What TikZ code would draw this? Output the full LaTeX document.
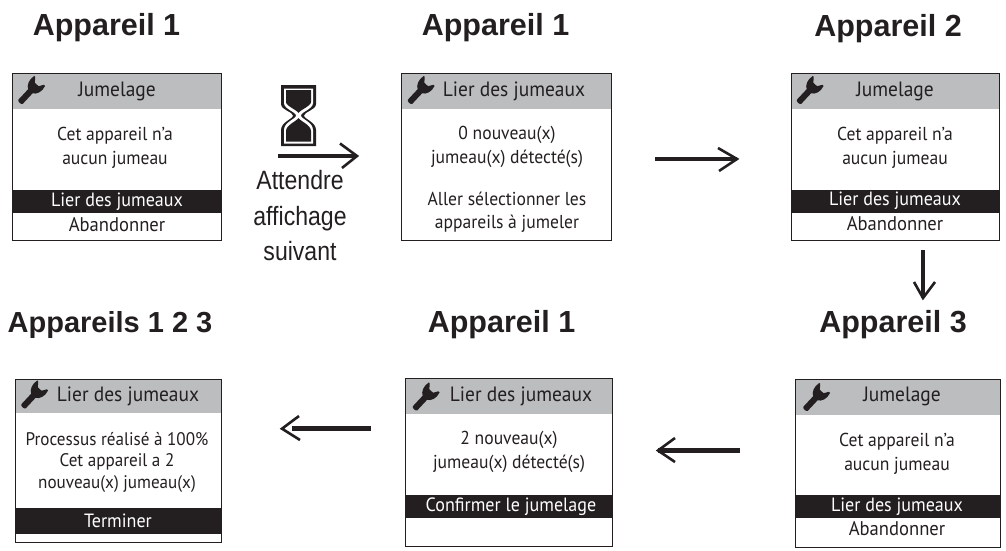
\documentclass[tikz,border=0pt]{standalone}
\usepackage{fontspec}
\setmainfont[FakeStretch=0.94]{PT Sans}
\newfontfamily\arialf{Liberation Sans}
\newfontfamily\arialn[FakeStretch=0.87]{Liberation Sans}
\definecolor{hdr}{HTML}{BBBDBF}
\definecolor{ink}{HTML}{231F20}
\tikzset{
  x=1pt,y=-1pt,
  title/.style={font=\arialf\bfseries\fontsize{30.5}{34}\selectfont,text=ink,anchor=base,inner sep=0pt},
  scr/.style={font=\fontsize{18.7}{23.5}\selectfont,text=ink,align=center,anchor=center,inner sep=0pt},
  scrh/.style={scr,font=\fontsize{20.7}{24}\selectfont},
  scrt/.style={scr,font=\fontsize{18.2}{21.5}\selectfont},
  scra/.style={scr,font=\fontsize{19.8}{24}\selectfont},
  scrw/.style={scr,font=\fontsize{19.2}{24}\selectfont,text=white},
  wait/.style={font=\arialn\fontsize{26.5}{35.5}\selectfont,text=ink,align=center,inner sep=0pt},
  flow/.style={draw=ink,line width=4.6pt},
  head/.style={draw=ink,line width=2.6pt,line join=miter},
  frame/.style={draw=ink,line width=1pt},
}
\newcommand{\wrench}[2]{%
  \fill[ink,shift={(#1+0.6,#2-2.6)},rotate=47,scale=0.84] (-20,-3.6) -- (-3,-3.6) .. controls (-1,-8) and (6,-11) .. (13.5,-9)
   -- (13.5,-7.5) -- (8,-3) -- (8,3) -- (13.5,6.5) -- (13.5,8.5) .. controls (6,11) and (-1,8) .. (-3,3.6)
   -- (-20,3.6) .. controls (-22.5,3.6) and (-22.5,-3.6) .. (-20,-3.6) -- cycle;}
\newcommand{\screen}[6]{%
  \fill[hdr] (#2,#3) rectangle (#4,#6);
  \coordinate (#1) at (#2,#3);}
\newcommand{\blackbar}[4]{\fill[ink] (#1,#3) rectangle (#2,#4);}
\begin{document}
\begin{tikzpicture}
\useasboundingbox (0,0) rectangle (1006,551);
% titles
\node[title] (t1) at (106.5,35.5) {Appareil 1};
\node[title] (t2) at (495.5,35.5) {Appareil 1};
\node[title] (t3) at (888,37) {Appareil 2};
\node[title] (t4) at (893,332.5) {Appareil 3};
\node[title] (t5) at (501.5,332.5) {Appareil 1};
\node[title,font=\arialf\bfseries\fontsize{29}{32}\selectfont] (t6) at (110,332.5) {Appareils 1 2 3};
% screen 1
\screen{s1}{12.5}{73.5}{221}{240.5}{109}
\blackbar{12.5}{221}{190}{213}
\draw[frame] (12.5,73.5) rectangle (221,240.5);
\wrench{31.5}{92}
\node[scrh] (s1h) at (117,91) {Jumelage};
\node[scr] (s1b) at (115,148) {Cet appareil n'a\\aucun jumeau};
\node[scrw] (s1c) at (117,202) {Lier des jumeaux};
\node[scra] (s1d) at (117,225) {Abandonner};
% screen 2
\screen{s2}{401.5}{73.5}{611}{240.5}{109}
\draw[frame] (401.5,73.5) rectangle (611,240.5);
\wrench{421}{92}
\node[scrh] (s2h) at (514,91) {Lier des jumeaux};
\node[scr] (s2b) at (507,147) {0 nouveau(x)\\jumeau(x) détecté(s)};
\node[scr] (s2c) at (507,212) {Aller sélectionner les\\appareils à jumeler};
% screen 3
\screen{s3}{791.5}{73.5}{999.5}{240.5}{109}
\blackbar{791.5}{999.5}{190}{213}
\draw[frame] (791.5,73.5) rectangle (999.5,240.5);
\wrench{810}{92}
\node[scrh] (s3h) at (895,91) {Jumelage};
\node[scr] (s3b) at (895,148) {Cet appareil n'a\\aucun jumeau};
\node[scrw] (s3c) at (895,201) {Lier des jumeaux};
\node[scra] (s3d) at (895,224) {Abandonner};
% screen 4
\screen{s4}{795.5}{379.5}{1000}{547}{415}
\blackbar{795.5}{1000}{495}{518}
\draw[frame] (795.5,379.5) rectangle (1000,547);
\wrench{816.5}{399}
\node[scrh] (s4h) at (902,396) {Jumelage};
\node[scr] (s4b) at (897,454) {Cet appareil n'a\\aucun jumeau};
\node[scrw] (s4c) at (897,507) {Lier des jumeaux};
\node[scra] (s4d) at (897,529) {Abandonner};
% screen 5
\screen{s5}{405.5}{378.5}{612}{546}{414}
\blackbar{405.5}{612}{495}{518}
\draw[frame] (405.5,378.5) rectangle (612,546);
\wrench{426}{398.5}
\node[scrh] (s5h) at (521,396) {Lier des jumeaux};
\node[scr] (s5b) at (509,452) {2 nouveau(x)\\jumeau(x) détecté(s)};
\node[scrw] (s5c) at (511,507) {Confirmer le jumelage};
% screen 6
\screen{s6}{15.5}{379}{221}{542}{413}
\blackbar{15.5}{221}{508}{534}
\draw[frame] (15.5,379) rectangle (221,542);
\wrench{34.5}{396.5}
\node[scrh] (s6h) at (128,396) {Lier des jumeaux};
\node[scrt] (s6b) at (117,462) {Processus réalisé à 100\%\\Cet appareil a 2\\nouveau(x) jumeau(x)};
\node[scrw] (s6c) at (118,521) {Terminer};
% hourglass
\fill[ink] (281,85) -- (316,85) -- (316,104) .. controls (316,110) and (304,112) .. (304,115.5)
  .. controls (304,119) and (316,122) .. (316,130) -- (316,146) -- (281,146) -- (281,130)
  .. controls (281,122) and (293,119) .. (293,115.5) .. controls (293,112) and (281,110) .. (281,104) -- cycle;
\fill[white] (284,88.5) -- (313,88.5) -- (313,103) .. controls (313,109) and (301,112) .. (301,115.5)
  .. controls (301,119) and (313,122) .. (313,130) -- (313,143.5) -- (284,143.5) -- (284,130)
  .. controls (284,122) and (296,119) .. (296,115.5) .. controls (296,112) and (284,109) .. (284,103) -- cycle;
\fill[ink] (286,90) -- (311,90) -- (311,102) .. controls (311,106) and (300,110) .. (298.5,113)
  .. controls (297,110) and (286,106) .. (286,102) -- cycle;
\fill[ink] (298.5,118) .. controls (300,121) and (311,125) .. (311,131) -- (311,141.5) -- (286,141.5) -- (286,131)
  .. controls (286,125) and (297,121) .. (298.5,118) -- cycle;
% wait label
\node[wait] (w) at (300,216) {Attendre\\affichage\\suivant};
% arrows
\coordinate (a1a) at (278,156); \coordinate (a1b) at (357,156);
\coordinate (a1u) at (340,143.5); \coordinate (a1d) at (342,168);
\draw[flow] (a1a) -- (a1b);
\draw[head] (a1u) -- (a1b) -- (a1d);
\coordinate (a2a) at (655,159); \coordinate (a2b) at (737,159);
\coordinate (a2u) at (718,148); \coordinate (a2d) at (719,171);
\draw[flow] (a2a) -- (a2b);
\draw[head] (a2u) -- (a2b) -- (a2d);
\coordinate (a3a) at (923,250); \coordinate (a3b) at (923,298);
\coordinate (a3u) at (914,282); \coordinate (a3d) at (935,282);
\draw[flow] (a3a) -- (a3b);
\draw[head] (a3u) -- (a3b) -- (a3d);
\coordinate (a4a) at (740,450.5); \coordinate (a4b) at (658,450.5);
\coordinate (a4u) at (675,438); \coordinate (a4d) at (675,462);
\draw[flow] (a4a) -- (a4b);
\draw[head] (a4u) -- (a4b) -- (a4d);
\coordinate (a5a) at (371,428.7); \coordinate (a5b) at (292,428.7);
\coordinate (a5t) at (282,428.7);
\coordinate (a5u) at (299,416); \coordinate (a5d) at (300,440);
\draw[flow] (a5a) -- (a5b);
\draw[head] (a5u) -- (a5t) -- (a5d);
\end{tikzpicture}
\end{document}
